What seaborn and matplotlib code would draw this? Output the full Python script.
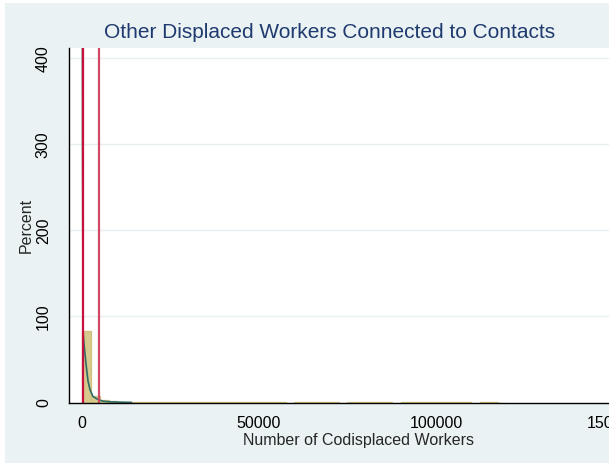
import numpy as np
import seaborn as sns
import matplotlib.pyplot as plt
from matplotlib.patches import Rectangle

# histogram: bins of 2500 workers, percent per bin
bin_width = 2500
bin_edges = list(range(0, 120001, bin_width))
bin_pct = [83, 7, 2.5, 1.2, 0.8, 0.6, 0.5, 0.4, 0.4, 0.4, 0.4, 0.4,
           0.35, 0.35, 0.35, 0.35, 0.3, 0.3, 0.3, 0.3, 0.3, 0.3, 0.3, 0,
           0.3, 0.3, 0.3, 0.3, 0.3, 0, 0.3, 0.3, 0.3, 0.3, 0.3, 0,
           0.3, 0.3, 0.3, 0.3, 0.3, 0.3, 0.3, 0.3, 0, 0.3, 0.3, 0]

# kernel density overlay (scaled to percent)
kde_x = [0, 150, 300, 565, 1130, 1695, 2260, 3100, 4520, 5930, 7900, 11000, 14000]
kde_y = [900, 300, 83, 68, 45, 25, 15, 7, 3.5, 1.5, 0.8, 0.4, 0.1]

# reference lines
vlines = [150, 4900]
vline_colors = ['#C8103E', '#D04A68']

xticks = [0, 50000, 100000, 150000]
yticks = [0, 100, 200, 300, 400]

bg = '#EAF2F3'
sns.set_style('white')
plt.rcParams['font.family'] = ['Liberation Sans', 'DejaVu Sans']

fig = plt.figure(figsize=(6.09, 4.63), dpi=100)
fig.patch.set_facecolor(bg)
fig.patches.append(Rectangle((0, 0), 5 / 609, 1, transform=fig.transFigure,
                             facecolor='white', edgecolor='none', zorder=-10))
fig.patches.append(Rectangle((0, 1 - 3 / 463), 1, 3 / 463, transform=fig.transFigure,
                             facecolor='white', edgecolor='none', zorder=-10))

# axes spans beyond the right edge, like the cropped reference
x0, x1 = -3670, 160000
px_per_unit = 177 / 50000
ax_w = (x1 - x0) * px_per_unit
ax = fig.add_axes([69 / 609, (463 - 402.5) / 463, ax_w / 609, (402.5 - 48) / 463])
ax.set_facecolor('white')

centers = [e + bin_width / 2 for e in bin_edges[:-1]]
sns.histplot(x=centers, weights=bin_pct, bins=bin_edges, stat='count', ax=ax,
             color='#D6CA8C', edgecolor='#CFC27E', linewidth=0.9, alpha=1)
sns.lineplot(x=kde_x, y=kde_y, ax=ax, color='#2F6B66', linewidth=1.2, sort=False)
for xv, c in zip(vlines, vline_colors):
    ax.axvline(xv, color=c, linewidth=1.6)

ax.set_xlim(x0, x1)
ax.set_ylim(0, 412)
ax.set_xticks(xticks)
ax.set_xticklabels([str(t) for t in xticks])
ax.set_yticks(yticks)
ax.set_yticklabels([str(t) for t in yticks], rotation=90, va='center')
ax.tick_params(axis='both', direction='out', length=5, width=1, color='black',
               labelsize=11.5, labelcolor='black')
ax.tick_params(axis='x', pad=5)
ax.tick_params(axis='y', pad=8)
for gy in yticks[1:]:
    ax.axhline(gy, color='#E8EFF1', linewidth=1, zorder=0)
for s in ['top', 'right']:
    ax.spines[s].set_visible(False)
for s in ['left', 'bottom']:
    ax.spines[s].set_color('black')
    ax.spines[s].set_linewidth(1)

ax.set_xlabel('Number of Codisplaced Workers', fontsize=11.5, labelpad=1)
ax.set_ylabel('Percent', fontsize=11.5, va='center')
ax.yaxis.set_label_coords((26 - 69) / ax_w, 0.5)
fig.text(330 / 609, 1 - 33 / 463, 'Other Displaced Workers Connected to Contacts',
         ha='center', va='center', fontsize=15, color='#1F3A6E')

fig.savefig('out.png', dpi=100, facecolor=fig.get_facecolor())
